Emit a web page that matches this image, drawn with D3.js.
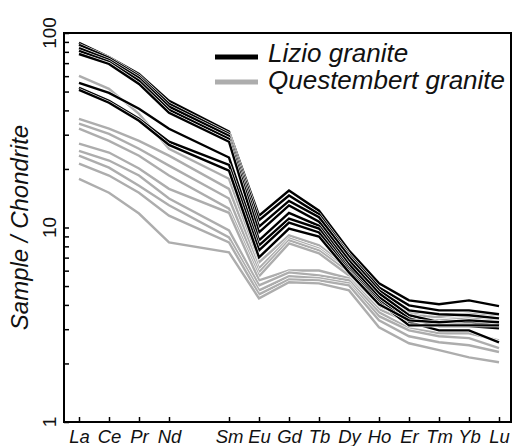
<!DOCTYPE html>
<html lang="en">
<head>
<meta charset="utf-8">
<title>REE chondrite-normalised</title>
<script src="https://d3js.org/d3.v7.min.js"></script>
<style>
  body { margin: 0; background: #fff; }
  svg { display: block; font-family: "Liberation Sans", Arial, sans-serif; }
</style>
</head>
<body>
<div id="chart"></div>
<script>
// REE order (Pm left empty, no tick)
var elements = ["La", "Ce", "Pr", "Nd", "Pm", "Sm", "Eu", "Gd", "Tb", "Dy", "Ho", "Er", "Tm", "Yb", "Lu"];
var ree = ["La", "Ce", "Pr", "Nd", "Sm", "Eu", "Gd", "Tb", "Dy", "Ho", "Er", "Tm", "Yb", "Lu"];

// sample / chondrite, one row per sample, in the order of ree[]
var lizio = [
  [88.9, 75.3, 61.6, 44.8, 31.1, 11.5, 15.5, 12.2, 7.62, 5.16, 4.22, 4.03, 4.22, 3.94],
  [86.8, 74.5, 60.2, 43.2, 30.3, 10.9, 14.6, 11.7, 7.27, 4.92, 3.98, 3.75, 3.75, 3.58],
  [83.7, 72.7, 58.8, 41.8, 29.6, 10.1, 13.7, 11.3, 7.10, 4.75, 3.75, 3.58, 3.54, 3.41],
  [80.9, 71.0, 56.8, 40.3, 28.6, 9.43, 13.0, 10.7, 6.77, 4.59, 3.54, 3.26, 3.26, 3.14],
  [78.0, 69.3, 54.7, 38.9, 27.6, 8.58, 11.9, 10.2, 6.46, 4.38, 3.41, 3.11, 3.11, 3.03],
  [55.4, 49.2, 40.8, 32.2, 22.9, 8.09, 11.1, 9.88, 6.16, 4.22, 3.26, 2.96, 2.96, 2.57],
  [52.2, 44.8, 36.2, 27.6, 21.0, 7.62, 10.6, 9.43, 6.01, 4.12, 3.14, 3.14, 3.14, 3.14],
  [51.0, 43.8, 35.4, 26.6, 19.6, 7.02, 9.88, 8.99, 5.88, 4.03, 3.33, 3.26, 3.33, 3.26]
];

var questembert = [
  [60.2, 51.6, 38.4, 25.4, 17.8, 6.62, 9.10, 8.09, 6.16, 4.32, 3.66, 3.41, 3.50, 3.41],
  [36.2, 32.2, 27.9, 23.4, 15.8, 6.16, 8.78, 7.80, 6.01, 4.22, 3.54, 3.46, 3.62, 3.54],
  [34.2, 30.3, 25.4, 20.8, 14.1, 5.88, 8.58, 7.62, 5.88, 4.08, 3.41, 3.33, 3.41, 3.33],
  [32.2, 27.9, 23.4, 18.5, 12.5, 5.61, 8.28, 7.36, 5.67, 3.94, 3.33, 3.26, 3.33, 3.26],
  [27.0, 24.3, 20.1, 15.8, 11.9, 5.35, 6.01, 6.01, 5.48, 3.80, 3.26, 3.14, 3.22, 3.14],
  [24.8, 22.1, 18.5, 14.1, 9.66, 5.04, 5.88, 5.67, 5.35, 3.66, 3.03, 2.86, 2.86, 2.63],
  [23.4, 20.3, 16.4, 13.0, 8.89, 4.75, 5.61, 5.48, 5.16, 3.50, 2.96, 2.76, 2.70, 2.40],
  [21.3, 18.5, 15.1, 11.5, 8.38, 4.53, 5.41, 5.35, 5.04, 3.33, 2.76, 2.57, 2.48, 2.29],
  [17.8, 15.1, 11.8, 8.38, 7.45, 4.32, 5.23, 5.16, 4.75, 3.07, 2.54, 2.34, 2.15, 2.03]
];

var yTicks = [1, 2, 3, 4, 5, 6, 7, 8, 9, 10, 20, 30, 40, 50, 60, 70, 80, 90, 100];
var yLabels = [1, 10, 100];
var seriesNames = ["Lizio granite", "Questembert granite"];

var width = 512,
    height = 446;
var plotLeft = 64, plotRight = 511, plotTop = 33, plotBottom = 422;

var svg = d3.select("#chart")
    .append("svg")
    .attr("width", width)
    .attr("height", height);

var x = d3.scalePoint()
    .domain(elements)
    .range([79, 499]);

var y = d3.scaleLog()
    .domain([1, 100])
    .range([plotBottom, plotTop]);

var line = d3.line()
    .x(function(d, i) { return x(ree[i]); })
    .y(function(d) { return y(d); });

// lines: gray first, black on top, each with a thin white casing
function drawGroup(data, colour, cls) {
  var g = svg.append("g").attr("class", cls);
  data.forEach(function(row) {
    g.append("path")
      .attr("d", line(row))
      .attr("fill", "none")
      .attr("stroke", "#fff")
      .attr("stroke-width", 3.6);
    g.append("path")
      .attr("d", line(row))
      .attr("fill", "none")
      .attr("stroke", colour)
      .attr("stroke-width", 2.4);
  });
}
drawGroup(questembert, "#adadad", "questembert");
drawGroup(lizio, "#000", "lizio");

// frame
svg.append("rect")
    .attr("x", plotLeft)
    .attr("y", plotTop)
    .attr("width", plotRight - plotLeft)
    .attr("height", plotBottom - plotTop)
    .attr("fill", "none")
    .attr("stroke", "#000")
    .attr("stroke-width", 2);

// x axis, inward ticks
var xAxis = d3.axisBottom(x)
    .tickValues(ree)
    .tickSizeInner(-5)
    .tickSizeOuter(0)
    .tickPadding(8);

var gx = svg.append("g")
    .attr("transform", "translate(0," + plotBottom + ")")
    .call(xAxis);
gx.select(".domain").remove();
gx.selectAll(".tick line").attr("stroke", "#000").attr("stroke-width", 1.5);
gx.selectAll(".tick text")
    .attr("fill", "#111")
    .style("font-size", "18.5px")
    .style("font-style", "italic")
    .style("font-family", "'Liberation Sans', Arial, sans-serif");

// y axis, inward ticks (major + minor)
var yAxis = d3.axisLeft(y)
    .tickValues(yTicks)
    .tickSizeInner(-5)
    .tickSizeOuter(0)
    .tickFormat("");

var gy = svg.append("g")
    .attr("transform", "translate(" + plotLeft + ",0)")
    .call(yAxis);
gy.select(".domain").remove();
gy.selectAll(".tick line").attr("stroke", "#000").attr("stroke-width", 1.5);

svg.selectAll(".ylab")
    .data(yLabels)
    .enter().append("text")
    .attr("class", "ylab")
    .attr("transform", function(d) { return "translate(56," + y(d) + ") rotate(-90)"; })
    .attr("text-anchor", "middle")
    .attr("fill", "#111")
    .style("font-size", "19px")
    .text(function(d) { return d; });

svg.append("text")
    .attr("transform", "translate(28," + ((plotTop + plotBottom) / 2) + ") rotate(-90)")
    .attr("text-anchor", "middle")
    .attr("fill", "#111")
    .style("font-size", "24px")
    .style("font-style", "italic")
    .text("Sample / Chondrite");

// legend
var legend = svg.append("g").attr("class", "legend");
var legendColours = ["#000", "#adadad"];
var legendY = [57, 82];
seriesNames.forEach(function(name, i) {
  legend.append("line")
    .attr("x1", 215).attr("x2", 258)
    .attr("y1", legendY[i]).attr("y2", legendY[i])
    .attr("stroke", legendColours[i])
    .attr("stroke-width", 5);
  legend.append("text")
    .attr("x", 268)
    .attr("y", legendY[i] + 5 + i * 2)
    .attr("fill", "#111")
    .style("font-size", "26px")
    .style("font-style", "italic")
    .text(name);
});
</script>
</body>
</html>
